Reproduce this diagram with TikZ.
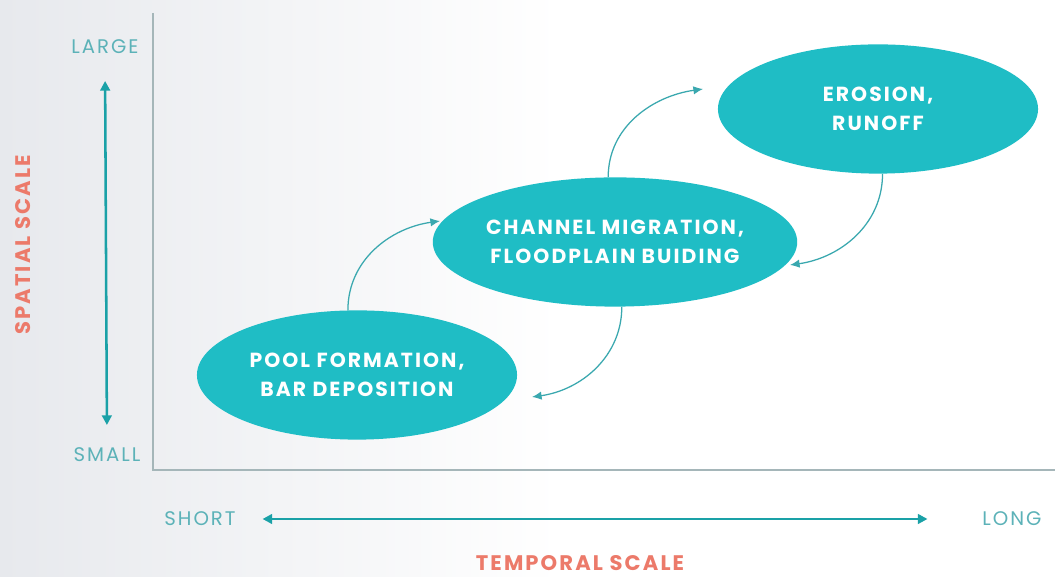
\documentclass[tikz,border=0pt]{standalone}
\usepackage{fontspec}
\setmainfont{Poppins}
\newfontfamily\spaced{Poppins}[LetterSpace=10]
\usetikzlibrary{shapes.geometric,arrows.meta}

\definecolor{lake}{RGB}{31,189,197}
\definecolor{flow}{RGB}{58,168,175}
\definecolor{tagteal}{RGB}{92,178,184}
\definecolor{salmon}{RGB}{236,122,106}
\definecolor{axisgray}{RGB}{165,182,185}
\definecolor{bggray}{RGB}{231,233,237}

\begin{document}
\begin{tikzpicture}[x=0.025cm,y=0.025cm,
  bubble/.style={ellipse,fill=lake,text=white,inner sep=0pt,
    minimum width=8cm,minimum height=3.23cm,align=center,
    font=\spaced\bfseries\fontsize{14.5}{21}\selectfont},
  loop/.style={draw=flow,line width=0.9pt,-{Latex[length=2.4mm,width=2.1mm]}},
  tag/.style={text=tagteal,font=\spaced\fontsize{14}{16}\selectfont},
  axisname/.style={text=salmon,font=\spaced\bfseries\fontsize{15}{17}\selectfont},
  scalearrow/.style={draw=lake!85!black,line width=1.8pt,
    {Triangle[length=2.4mm,width=2.4mm]}-{Triangle[length=2.4mm,width=2.4mm]}}]
  \useasboundingbox (0,0) rectangle (1055,577);
  % soft grey on the left side
  \fill[white] (0,0) rectangle (1055,577);
  \shade[left color=bggray,right color=white] (0,0) rectangle (560,577);

  % axes
  \draw[axisgray,line width=0.8pt] (153,564) -- (153,107) -- (1055,107);

  % the three processes
  \node[bubble] (pool) at (357,202) {POOL FORMATION,\\BAR DEPOSITION};
  \node[bubble] (channel) at (615,335) {CHANNEL MIGRATION,\\FLOODPLAIN BUIDING};
  \node[bubble] (erosion) at (878,468) {EROSION,\\RUNOFF};

  \coordinate (upA) at (440,356);
  \coordinate (upB) at (703,488);
  \coordinate (downA) at (790,312);
  \coordinate (downB) at (532,180);
  \draw[loop] (pool.98) to[out=90,in=188] (upA);
  \draw[loop] (channel.96) to[out=90,in=188] (upB);
  \draw[loop] (erosion.-86) to[out=-90,in=8] (downA);
  \draw[loop] (channel.-84) to[out=-90,in=8] (downB);

  % spatial scale
  \node[tag] (large) at (105,530) {LARGE};
  \node[tag] (small) at (107,122) {SMALL};
  \draw[scalearrow,shorten <=0.55cm,shorten >=0.45cm] (large.south) -- (small.north);
  \node[axisname,rotate=90] (spatial) at (23,332) {SPATIAL SCALE};

  % temporal scale
  \node[tag] (short) at (200,58) {SHORT};
  \node[tag] (long) at (1012,58) {LONG};
  \draw[scalearrow,shorten <=0.55cm,shorten >=1.25cm] (short.east) -- (long.west);
  \node[axisname] (temporal) at (580,14) {TEMPORAL SCALE};
\end{tikzpicture}
\end{document}
